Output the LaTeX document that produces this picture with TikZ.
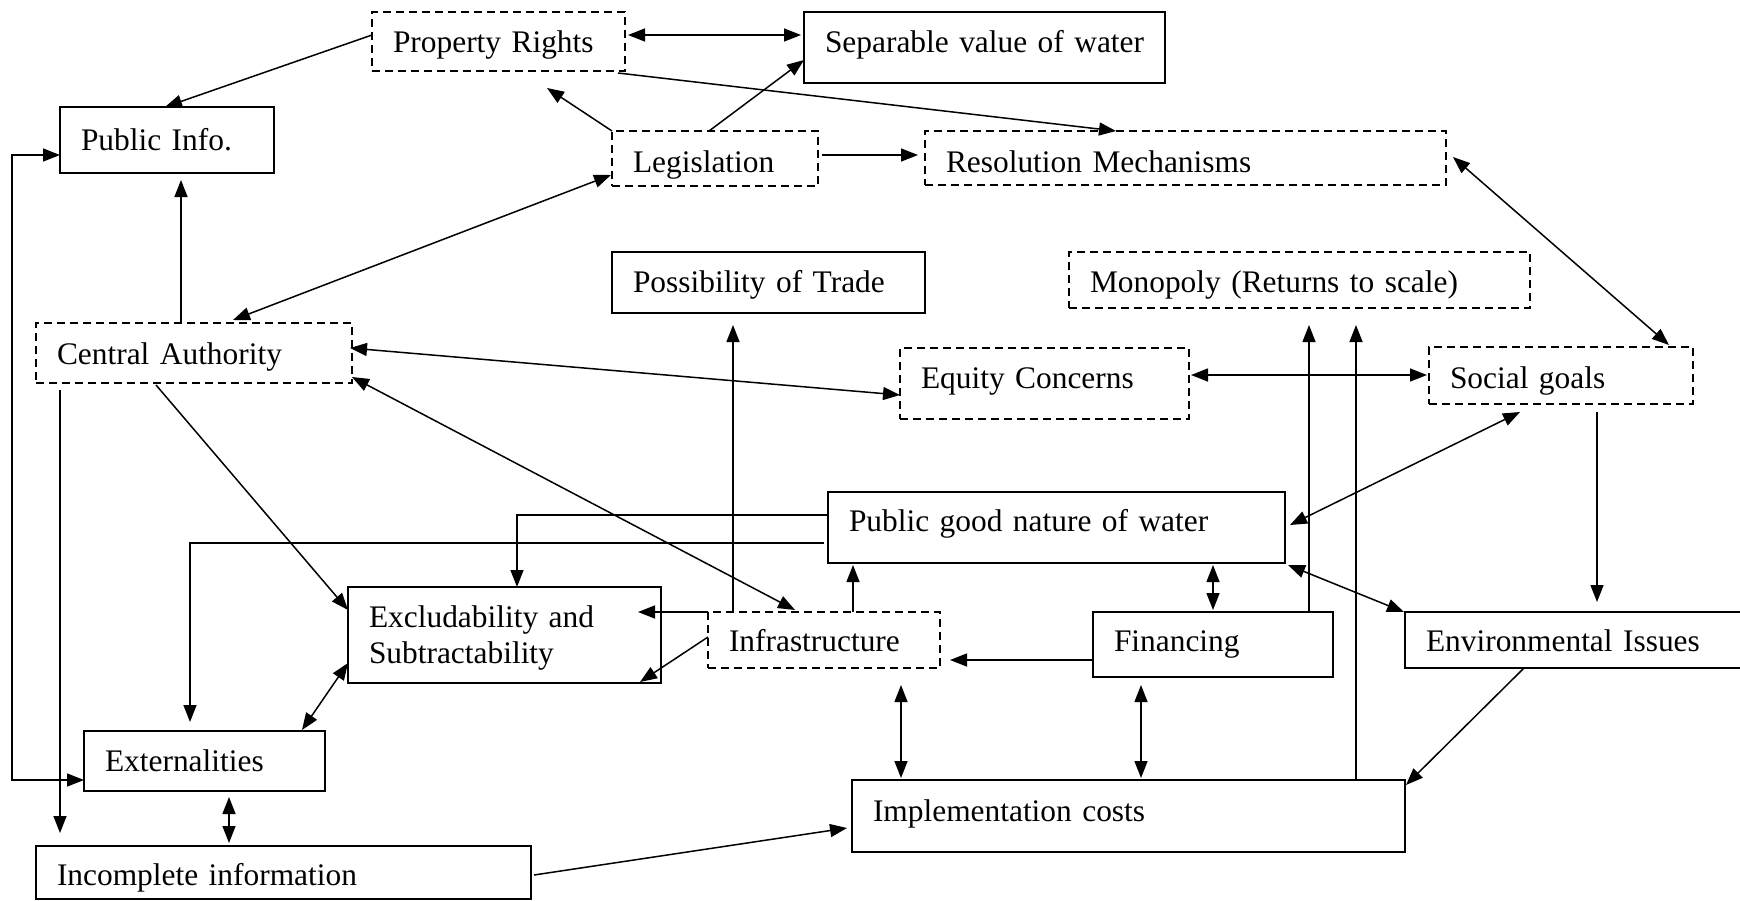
\documentclass[tikz,border=0pt]{standalone}
\usepackage{fontspec}
\setmainfont{Liberation Serif}
\usetikzlibrary{arrows.meta,calc}
\tikzset{
  box/.style={draw, line width=1.5pt, anchor=north west, inner xsep=21pt, inner ysep=0pt, outer sep=0pt, align=left, font=\fontsize{31.4}{36}\selectfont},
  dbox/.style={box, dash pattern=on 8pt off 5pt},
  con/.style={line width=1.5pt},
  arr/.style={con, -{Triangle[length=17pt,width=13pt]}},
  darr/.style={con, {Triangle[length=17pt,width=13pt]}-{Triangle[length=17pt,width=13pt]}},
}
\begin{document}
\begin{tikzpicture}[x=1pt,y=-1pt]
\useasboundingbox (0,0) rectangle (1740,900);
% nodes
\node[dbox, text width=211pt, text height=40pt, text depth=19pt] (pr) at (372,12) {\mbox{Property Rights}};
\node[box, text width=319pt, text height=40pt, text depth=31pt] (sv) at (804,12) {\mbox{Separable value of water}};
\node[box, text width=172pt, text height=43pt, text depth=23pt] (pi) at (60,107) {\mbox{Public Info.}};
\node[dbox, text width=164pt, text height=41pt, text depth=14pt] (leg) at (612,131) {\mbox{Legislation}};
\node[dbox, text width=479pt, text height=41pt, text depth=13pt] (res) at (925,131) {\mbox{Resolution Mechanisms}};
\node[box, text width=271pt, text height=40pt, text depth=21pt] (pot) at (612,252) {\mbox{Possibility of Trade}};
\node[dbox, text width=419pt, text height=40pt, text depth=16pt] (mono) at (1069,252) {\mbox{Monopoly (Returns to scale)}};
\node[dbox, text width=274pt, text height=41pt, text depth=19pt] (ca) at (36,323) {\mbox{Central Authority}};
\node[dbox, text width=247pt, text height=40pt, text depth=31pt] (eq) at (900,348) {\mbox{Equity Concerns}};
\node[dbox, text width=222pt, text height=41pt, text depth=16pt] (sg) at (1429,347) {\mbox{Social goals}};
\node[box, text width=415pt, text height=39pt, text depth=32pt] (pg) at (828,492) {\mbox{Public good nature of water}};
\node[box, text width=271pt, text height=40pt, text depth=56pt] (excl) at (348,587) {Excludability and\\Subtractability};
\node[dbox, text width=190pt, text height=39pt, text depth=17pt] (infra) at (708,612) {\mbox{Infrastructure}};
\node[box, text width=198pt, text height=39pt, text depth=26pt] (fin) at (1093,612) {\mbox{Financing}};
\node[box, text width=318pt, text height=39pt, text depth=17pt] (env) at (1405,612) {\mbox{Environmental Issues}};
\node[box, text width=199pt, text height=40pt, text depth=20pt] (ext) at (84,731) {\mbox{Externalities}};
\node[box, text width=511pt, text height=41pt, text depth=31pt] (impl) at (852,780) {\mbox{Implementation costs}};
\node[box, text width=453pt, text height=39pt, text depth=14pt] (inc) at (36,846) {\mbox{Incomplete information}};
% connectors
\draw[arr] ($(pr.north west)+(0,23)$) -- ($(pi.north west)+(105,0)$);
\draw[darr] ($(pr.north east)+(3,23)$) -- ($(sv.north west)+(-3,23)$);
\draw[arr] ($(pr.south east)+(-7,2)$) -- ($(res.north west)+(191,0)$);
\draw[arr] (leg.north west) -- ($(pr.south west)+(175,17)$);
\draw[arr] ($(leg.north west)+(97,0)$) -- ($(sv.north west)+(0,48)$);
\draw[arr] ($(leg.north east)+(4,24)$) -- ($(res.north west)+(-7,24)$);
\draw[darr] ($(ca.north west)+(197,-3)$) -- ($(leg.north west)+(-1,44)$);
\draw[arr] ($(ca.north west)+(145,0)$) -- ($(pi.south west)+(121,7)$);
\draw[darr] ($(pi.north west)+(0,48)$) -- ++(-48,0) |- ($(ext.north west)+(0,49)$);
\draw[arr] ($(ca.south west)+(24,7)$) -- ($(inc.north west)+(24,-13)$);
\draw[arr] ($(ca.south west)+(120,2)$) -- ($(excl.north west)+(0,23)$);
\draw[darr] ($(ca.north east)+(-2,25)$) -- ($(eq.north west)+(0,47)$);
\draw[darr] ($(ca.north east)+(0,54)$) -- ($(infra.north west)+(87,-2)$);
\draw[arr] ($(pg.north west)+(0,23)$) -| ($(excl.north west)+(169,0)$);
\draw[arr] ($(pg.north west)+(-4,51)$) -| ($(ext.north west)+(106,-9)$);
\draw[arr] ($(infra.north west)+(25,0)$) -- ($(pot.south west)+(121,12)$);
\draw[arr] (infra.north west) -- ($(excl.north east)+(-23,25)$);
\draw[arr] ($(infra.north west)+(0,25)$) -- ($(excl.south east)+(-21,-1)$);
\draw[arr] ($(infra.north west)+(145,0)$) -- ($(pg.south west)+(25,2)$);
\draw[arr] ($(fin.north west)+(0,48)$) -- ($(infra.north east)+(10,48)$);
\draw[darr] ($(infra.south west)+(193,17)$) -- ($(impl.north west)+(49,-2)$);
\draw[darr] ($(fin.south west)+(48,8)$) -- ($(impl.north west)+(289,-2)$);
\draw[darr] ($(pg.south west)+(385,2)$) -- ($(fin.north west)+(120,-2)$);
\draw[arr] ($(fin.north west)+(216,0)$) -- ($(mono.south west)+(240,17)$);
\draw[arr] ($(impl.north west)+(504,0)$) -- ($(mono.south west)+(287,17)$);
\draw[darr] ($(pg.north east)+(5,33)$) -- ($(sg.south west)+(91,8)$);
\draw[darr] ($(res.north east)+(7,26)$) -- ($(sg.north west)+(240,-2)$);
\draw[darr] ($(eq.north east)+(2,27)$) -- ($(sg.north west)+(-2,28)$);
\draw[arr] ($(sg.south west)+(168,8)$) -- ($(env.north west)+(192,-10)$);
\draw[darr] ($(pg.south east)+(3,2)$) -- ($(env.north west)+(-1,0)$);
\draw[arr] ($(env.south west)+(119,0)$) -- ($(impl.north east)+(1,5)$);
\draw[darr] ($(ext.north west)+(218,-1)$) -- ($(excl.south west)+(0,-20)$);
\draw[darr] ($(ext.south west)+(145,6)$) -- ($(inc.north west)+(193,-3)$);
\draw[arr] ($(inc.north west)+(498,29)$) -- ($(impl.north west)+(-5,48)$);
\end{tikzpicture}
\end{document}
